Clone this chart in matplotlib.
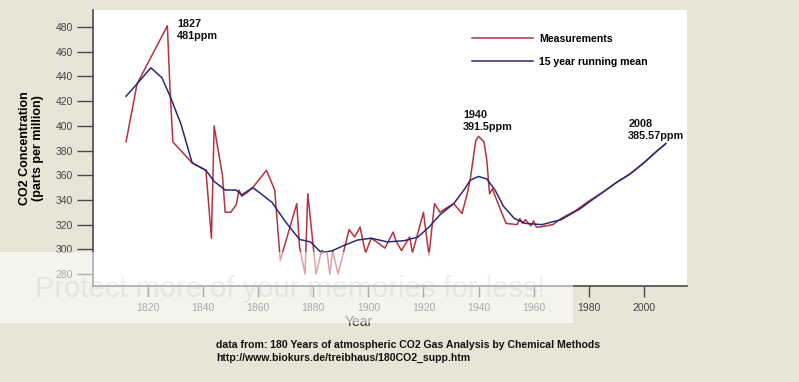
#!/usr/bin/env python3
"""
CO2 concentration 1812-2008: chemical measurements and 15 year running mean
"""

import matplotlib
matplotlib.use('Agg')
import matplotlib.pyplot as plt
from matplotlib.patches import Rectangle

# measurements (ppm)
meas_years = [1812, 1816, 1827, 1828, 1829, 1836, 1841, 1843, 1844, 1845,
              1847, 1848, 1850, 1852, 1853, 1854, 1856, 1858, 1863, 1866,
              1868, 1874, 1875, 1877, 1878, 1880, 1881, 1883, 1885, 1886,
              1887, 1889, 1892, 1893, 1895, 1897, 1898, 1899, 1901, 1903,
              1906, 1909, 1910, 1912, 1915, 1916, 1920, 1922, 1924, 1926,
              1928, 1931, 1934, 1936, 1937, 1939, 1940, 1942, 1943, 1944,
              1945, 1948, 1950, 1954, 1955, 1956, 1957, 1959, 1960, 1961,
              1962, 1967, 1970, 1975, 1980, 1985, 1990, 1995, 2000, 2005,
              2008]
meas_ppm = [387, 434, 481, 428, 387, 370, 364, 309, 400, 386,
            360, 330, 330, 336, 348, 343, 346, 350, 364, 348,
            291, 337, 302, 280, 345, 302, 280, 299, 297, 280,
            299, 280, 307, 316, 310, 318, 307, 297, 309, 306,
            301, 314, 307, 299, 310, 297, 330, 295, 337, 330,
            333, 337, 329, 346, 357, 388, 391.5, 387, 372, 345,
            349, 332, 321, 320, 325, 321, 324, 319, 323, 318,
            318, 320, 325, 331, 339, 346, 354, 361, 370, 380,
            385.57]

# 15 year running mean (ppm)
mean_years = [1812, 1816, 1821, 1825, 1828, 1832, 1836, 1841, 1844, 1848,
              1852, 1854, 1858, 1861, 1865, 1870, 1875, 1879, 1883, 1887,
              1891, 1896, 1901, 1907, 1913, 1918, 1922, 1926, 1931, 1935,
              1937, 1940, 1943, 1946, 1949, 1953, 1957, 1963, 1970, 1977,
              1980, 1985, 1990, 1995, 2000, 2005, 2008]
mean_ppm = [424, 434, 447, 439, 424, 401, 370, 364, 355, 348,
            348, 344, 350, 345, 338, 322, 308, 306, 297, 299,
            303, 307.5, 309, 306, 307, 310, 318, 328, 337, 349,
            356, 359, 357, 348, 335, 325, 321, 320, 324, 333,
            338, 346, 354, 361, 370, 380, 385.57]

x_ticks = [1820, 1840, 1860, 1880, 1900, 1920, 1940, 1960, 1980, 2000]
y_ticks = [280, 300, 320, 340, 360, 380, 400, 420, 440, 460, 480]

peaks = [(1827, 481, '1827\n481ppm', (7, 5)),
         (1940, 391.5, '1940\n391.5ppm', (-11, 19)),
         (2008, 385.57, '2008\n385.57ppm', (-27, 18))]

RED = '#b3333e'
BLUE = '#2a2a76'
BG = '#e8e5d6'
FONT = 'Liberation Sans'

W, H = 799, 382
fig = plt.figure(figsize=(W / 100, H / 100), dpi=100, facecolor=BG)
ax = fig.add_axes([93 / W, 1 - 286 / H, (687 - 93) / W, (286 - 10) / H])
ax.set_facecolor('white')

ax.plot(meas_years, meas_ppm, color=RED, lw=1.1, label='Measurements')
ax.plot(mean_years, mean_ppm, color=BLUE, lw=1.1,
        label='15 year running mean')

ax.set_xlim(1800, 2015.7)
ax.set_ylim(270.3, 493.8)
ax.set_xticks(x_ticks)
ax.set_yticks(y_ticks)
for side in ['top', 'right']:
    ax.spines[side].set_visible(False)
for side in ['left', 'bottom']:
    ax.spines[side].set_color('#4a4a4a')
    ax.spines[side].set_linewidth(1.2)
ax.tick_params(axis='y', direction='out', length=11.5, width=1,
               color='#4a4a4a', labelcolor='#444444', labelsize=7.5, pad=3)
ax.tick_params(axis='x', direction='out', length=8, width=1,
               color='#4a4a4a', labelcolor='#444444', labelsize=7.5, pad=4.5)
for lab in ax.get_xticklabels() + ax.get_yticklabels():
    lab.set_family(FONT)

ax.set_ylabel('CO2 Concentration\n(parts per million)', fontsize=9,
              fontweight='bold', family=FONT, labelpad=8,
              linespacing=1.1)

leg = ax.legend(loc='upper left', bbox_to_anchor=(472 / W, 1 - 34 / H),
                bbox_transform=fig.transFigure, frameon=False,
                borderpad=0, borderaxespad=0, handlelength=5.8,
                handletextpad=0.55, labelspacing=1.2,
                prop={'family': FONT, 'weight': 'bold', 'size': 7.6})

for year, val, txt, off in peaks:
    ax.annotate(txt, xy=(year, val), xytext=off, textcoords='offset points',
                ha='left', va='top', fontsize=7.8, fontweight='bold',
                family=FONT, linespacing=1.3, color='#111111')

fig.text(359 / W, 1 - 322 / H, 'Year', ha='center', va='center',
         fontsize=10, color='#333333', family=FONT)
fig.text(216 / W, 1 - 340 / H,
         'data from: 180 Years of atmospheric CO2 Gas Analysis by '
         'Chemical Methods\nhttp://www.biokurs.de/treibhaus/180CO2_supp.htm',
         ha='left', va='top', fontsize=7.6, fontweight='bold',
         family=FONT, linespacing=1.35, color='#111111')

# photo host watermark band
fig.add_artist(Rectangle((0, 1 - 323 / H), 573 / W, 71 / H,
                         transform=fig.transFigure, facecolor='white',
                         alpha=0.55, edgecolor='none', zorder=10))
fig.text(35 / W, 1 - 297 / H, 'Protect more of your memories for less!',
         ha='left', va='baseline', fontsize=21, color='#b0b0b0',
         alpha=0.2, family=FONT, zorder=11)

fig.savefig('out.png', dpi=100, facecolor=BG)
